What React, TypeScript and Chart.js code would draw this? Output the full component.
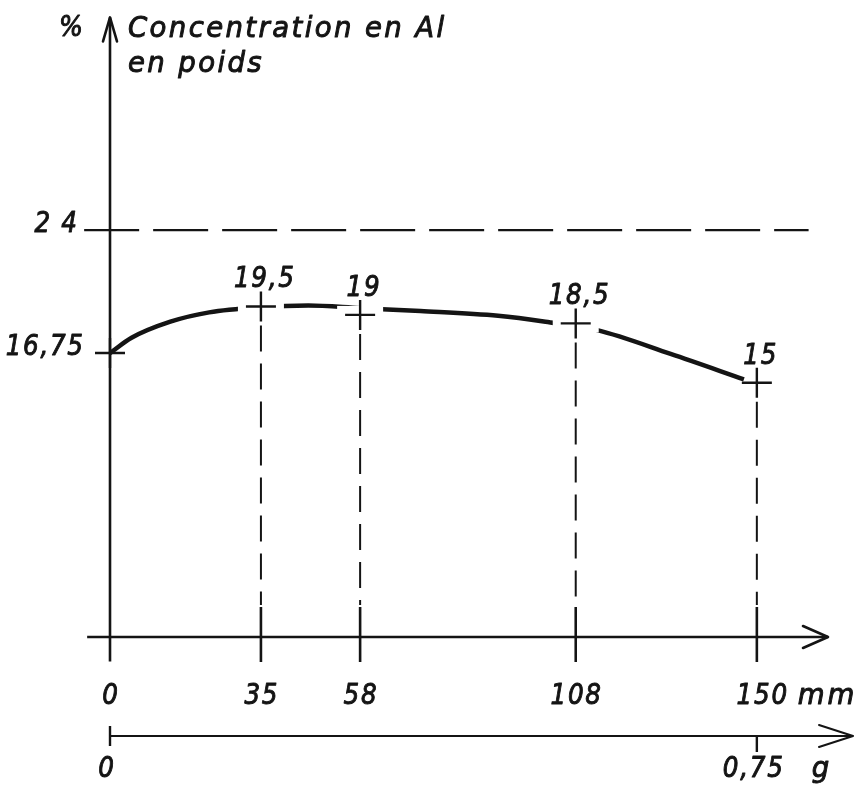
import React, { useEffect, useRef } from "react";
import { Chart, registerables } from "chart.js";

Chart.register(...registerables);

// Measured points (position in mm, Al concentration in % by weight)
const POINT_MM = [0, 35, 58, 108, 150];
const POINT_PCT = [16.75, 19.5, 19, 18.5, 15];

// Hand-drawn smoothed curve
const CURVE_MM = [0, 5, 14, 23, 35, 46, 58, 72, 90, 101, 113, 130, 147];
const CURVE_PCT = [16.75, 17.65, 18.6, 19.15, 19.45, 19.55, 19.4, 19.23, 18.95, 18.6, 18.1, 16.7, 15.2];

// Reference level
const REF_LEVEL = 24;
const REF_LABEL = "2 4";

// Axis ticks
const X_TICKS = [0, 35, 58, 108, 150];
const X_UNIT = "mm";
const G_TICKS = [0, 0.75];
const G_TICK_LABELS = ["0", "0,75"];
const G_UNIT = "g";
const MM_PER_G = 200;

const Y_TITLE_1 = "Concentration en Al";
const Y_TITLE_2 = "en poids";
const Y_UNIT = "%";

const X_MIN = 0;
const X_MAX = 166.5;
const X_AXIS_START = -5.3;
const G_AXIS_END = 172.3;
const Y_MIN = 0;
const Y_MAX = 36.55;
const Y_AXIS_BOTTOM = -1.45;

const INK = "#141414";
const FONT = '"DejaVu Sans"';

const fmt = (v: number) => String(v).replace(".", ",");

function txt(
  ctx: CanvasRenderingContext2D,
  s: string,
  x: number,
  y: number,
  align: "left" | "center" | "right" = "center",
  size = 29,
  ls = 2,
  sx = 0.85
) {
  ctx.save();
  ctx.font = `italic ${size}px ${FONT}`;
  (ctx as any).letterSpacing = ls + "px";
  const w = (ctx.measureText(s).width - ls) * sx;
  const left = align === "center" ? x - w / 2 : align === "right" ? x - w : x;
  ctx.translate(left, y);
  ctx.scale(sx, 1);
  ctx.textAlign = "left";
  ctx.textBaseline = "alphabetic";
  ctx.fillStyle = INK;
  ctx.strokeStyle = INK;
  ctx.lineWidth = 1;
  ctx.lineJoin = "round";
  ctx.fillText(s, 0, 0);
  ctx.strokeText(s, 0, 0);
  ctx.restore();
}

function line(ctx: CanvasRenderingContext2D, x1: number, y1: number, x2: number, y2: number, w: number, dash: number[] = []) {
  ctx.save();
  ctx.strokeStyle = INK;
  ctx.lineWidth = w;
  ctx.setLineDash(dash);
  ctx.lineCap = "butt";
  ctx.beginPath();
  ctx.moveTo(x1, y1);
  ctx.lineTo(x2, y2);
  ctx.stroke();
  ctx.restore();
}

function arrow(ctx: CanvasRenderingContext2D, tx: number, ty: number, dir: "up" | "right", len: number, half: number, w: number) {
  ctx.save();
  ctx.strokeStyle = INK;
  ctx.lineWidth = w;
  ctx.lineCap = "round";
  ctx.lineJoin = "round";
  ctx.beginPath();
  if (dir === "up") {
    ctx.moveTo(tx - half, ty + len);
    ctx.lineTo(tx, ty);
    ctx.lineTo(tx + half, ty + len);
  } else {
    ctx.moveTo(tx - len, ty - half);
    ctx.lineTo(tx, ty);
    ctx.lineTo(tx - len, ty + half);
  }
  ctx.stroke();
  ctx.restore();
}

const CROSS_R = 15;

const decorPlugin = {
  id: "decor",
  beforeDatasetsDraw(chart: any) {
    const ctx: CanvasRenderingContext2D = chart.ctx;
    const xs = chart.scales.x;
    const ys = chart.scales.y;
    const X = (v: number) => xs.getPixelForValue(v);
    const Y = (v: number) => ys.getPixelForValue(v);
    const x0 = X(0);
    const y0 = Y(0);

    // y axis
    line(ctx, x0, Y(Y_MAX), x0, Y(Y_AXIS_BOTTOM), 2.6);
    arrow(ctx, x0, Y(Y_MAX), "up", 24, 7, 2.6);
    // x axis
    line(ctx, X(X_AXIS_START), y0, X(X_MAX), y0, 2.6);
    arrow(ctx, X(X_MAX), y0, "right", 25, 11, 2.6);

    // reference dashed level
    line(ctx, X(X_AXIS_START) - 3, Y(REF_LEVEL), X(162), Y(REF_LEVEL), 2.4, [55, 14]);

    // vertical guides and ticks
    POINT_MM.forEach((mm, i) => {
      const px = X(mm);
      if (mm !== 0) {
        line(ctx, px, Y(POINT_PCT[i]) + CROSS_R + 4, px, y0 - 32, 2, [26, 12]);
        line(ctx, px, y0 - 30, px, y0 + 25, 2.6);
      }
    });

    // x tick labels
    X_TICKS.forEach((mm) => {
      txt(ctx, String(mm), X(mm) + (mm === 150 ? 5 : 0), y0 + 67);
    });
    txt(ctx, X_UNIT, X(150) + 41, y0 + 67, "left", 29, 3, 0.95);

    // second axis (grams)
    const gy = y0 + 99;
    line(ctx, X(G_TICKS[0] * MM_PER_G), gy, X(G_AXIS_END), gy, 2);
    arrow(ctx, X(G_AXIS_END), gy, "right", 34, 11, 2);
    line(ctx, X(0), gy - 10, X(0), gy + 10, 2.4);
    line(ctx, X(G_TICKS[1] * MM_PER_G), gy, X(G_TICKS[1] * MM_PER_G), gy + 16, 2.4);
    txt(ctx, G_TICK_LABELS[0], X(G_TICKS[0] * MM_PER_G) - 4, gy + 41);
    txt(ctx, G_TICK_LABELS[1], X(G_TICKS[1] * MM_PER_G) - 4, gy + 41);
    txt(ctx, G_UNIT, X(G_TICKS[1] * MM_PER_G) + 55, gy + 41, "left", 29, 0, 0.95);

    // y labels
    txt(ctx, REF_LABEL, x0 - 33, Y(REF_LEVEL) + 2, "right", 29, 2);
    txt(ctx, fmt(POINT_PCT[0]), x0 - 27, Y(POINT_PCT[0]) + 2, "right", 29, 2);

    // titles
    txt(ctx, Y_UNIT, x0 - 39, 36, "center", 28, 0, 0.9);
    txt(ctx, Y_TITLE_1, x0 + 18, 37, "left", 29, 2.5, 0.95);
    txt(ctx, Y_TITLE_2, x0 + 18, 72, "left", 29, 2.5, 0.95);

    // point labels
    POINT_MM.forEach((mm, i) => {
      if (i === 0) return;
      txt(ctx, fmt(POINT_PCT[i]), X(mm) + 3, Y(POINT_PCT[i]) - 19);
    });
  },
  beforeDatasetDraw(chart: any, args: any) {
    if (args.index !== 0) return;
    const ctx: CanvasRenderingContext2D = chart.ctx;
    const xs = chart.scales.x;
    const ys = chart.scales.y;
    ctx.save();
    ctx.fillStyle = "#ffffff";
    POINT_MM.forEach((mm, i) => {
      if (i === 0 || i === POINT_MM.length - 1) return;
      const px = xs.getPixelForValue(mm);
      const py = ys.getPixelForValue(POINT_PCT[i]);
      ctx.fillRect(px - CROSS_R - 8, py - 9, 2 * (CROSS_R + 8), 18);
    });
    ctx.restore();
  },
};

export default function App() {
  const ref = useRef<HTMLCanvasElement | null>(null);
  useEffect(() => {
    if (!ref.current) return;
    const chart = new Chart(ref.current, {
      type: "scatter",
      data: {
        datasets: [
          {
            label: "points",
            data: POINT_MM.map((x, i) => ({ x, y: POINT_PCT[i] })),
            showLine: false,
            pointStyle: "cross",
            pointRadius: CROSS_R,
            pointBorderWidth: 2.4,
            pointBorderColor: INK,
            borderColor: INK,
            clip: false,
          } as any,
          {
            label: "curve",
            data: CURVE_MM.map((x, i) => ({ x, y: CURVE_PCT[i] })),
            showLine: true,
            borderColor: INK,
            borderWidth: 4.5,
            pointRadius: 0,
            cubicInterpolationMode: "monotone",
            tension: 0.4,
            clip: false,
          } as any,
        ],
      },
      options: {
        responsive: false,
        animation: false,
        layout: { padding: { left: 110, right: 26, top: 8, bottom: 156 } },
        scales: {
          x: { type: "linear", display: false, min: X_MIN, max: X_MAX },
          y: { type: "linear", display: false, min: Y_MIN, max: Y_MAX },
        },
        plugins: { legend: { display: false }, tooltip: { enabled: false } },
      },
      plugins: [decorPlugin],
    });
    return () => chart.destroy();
  }, []);
  return (
    <div style={{ position: "absolute", left: 0, top: 0, width: 854, height: 793, background: "#fff" }}>
      <canvas ref={ref} width={854} height={793} style={{ display: "block" }} />
    </div>
  );
}
